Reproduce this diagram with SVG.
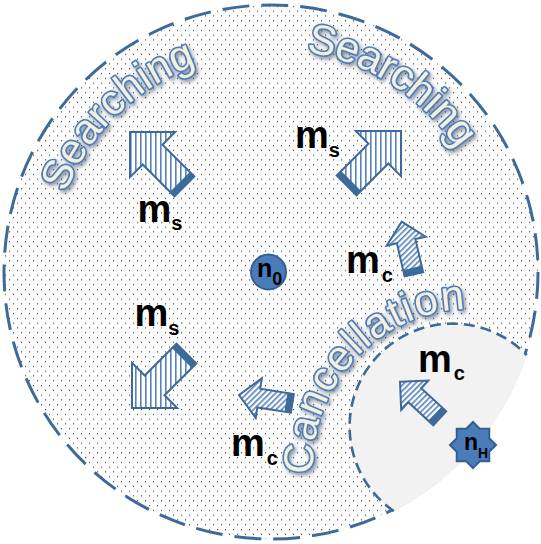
<svg xmlns="http://www.w3.org/2000/svg" width="541" height="544" viewBox="0 0 541 544">
<style>
.lbl{font-family:"Liberation Sans",Arial,sans-serif;font-weight:bold;font-size:38px;fill:#000}
.sub{font-size:20px}
.word{font-family:"Liberation Sans",Arial,sans-serif;font-size:42px;fill:#F3F0E2;stroke:#4F7DB5;stroke-width:3.2px;paint-order:stroke;stroke-linejoin:round;filter:url(#shadow)}
.arrow{stroke:#3C6A9C;stroke-width:2;stroke-linejoin:miter}
.band{fill:#3C6A9C;stroke:#3C6A9C;stroke-width:1}
.node{fill:#4A7CB9;stroke:#335F8F;stroke-width:2}
.ntxt{font-family:"Liberation Sans",Arial,sans-serif;font-weight:bold;fill:#000}
</style>
<defs>
<pattern id="dots" patternUnits="userSpaceOnUse" width="8" height="9.6">
<rect width="8" height="9.6" fill="#fff"/>
<rect x="1" y="1" width="1.1" height="1.1" fill="#333"/>
<rect x="5" y="5.8" width="1.1" height="1.1" fill="#333"/>
</pattern>
<pattern id="vstripe" patternUnits="userSpaceOnUse" width="5" height="5">
<rect width="5" height="5" fill="#fff"/>
<rect width="1.6" height="5" fill="#5482BA"/>
</pattern>
<pattern id="dstripe" patternUnits="userSpaceOnUse" width="4" height="4" patternTransform="rotate(45)">
<rect width="4" height="4" fill="#fff"/>
<rect width="1.6" height="4" fill="#5482BA"/>
</pattern>
<filter id="shadow" x="-20%" y="-20%" width="140%" height="140%">
<feDropShadow dx="2" dy="2.5" stdDeviation="2" flood-color="#3e4e66" flood-opacity="0.6"/>
</filter>
<path id="arcL" d="M 65.6 193.2 A 220 220 0 0 1 240.4 54.1"/>
<path id="arcR" d="M 305.9 51.7 A 223 223 0 0 1 480.5 195.7"/>
<path id="arcC" d="M 313.2 474.2 A 157 157 0 0 1 510.6 314.4"/>
</defs>

<g id="area">
<circle cx="271" cy="272" r="267" fill="url(#dots)" stroke="#3D6A99" stroke-width="3" stroke-dasharray="27 12"/>
<path id="cancel-zone" d="M 526.8 355.2 A 269 269 0 0 1 393.8 511.2 A 103 103 0 1 1 526.8 355.2 Z" fill="#F2F2F2"/>
<path d="M 393.8 511.2 A 103 103 0 1 1 526.8 355.2" fill="none" stroke="#3D6A99" stroke-width="2.6" stroke-dasharray="11 6"/>
</g>

<g id="labels-curved">
<text class="word"><textPath href="#arcL">Searching</textPath></text>
<text class="word" letter-spacing="-0.5"><textPath href="#arcR">Searching</textPath></text>
<text class="word" letter-spacing="1.7"><textPath href="#arcC">Cancellation</textPath></text>
</g>

<g id="connectors">
<g id="ms-nw">
<polygon class="arrow" fill="url(#vstripe)" points="130,132 175.2,132 162.5,144.7 194.3,176.5 174.5,196.3 142.7,164.5 130,177.2"/>
<polygon class="band" points="190.1,172.3 194.3,176.5 174.5,196.3 170.3,192.1"/>
</g>
<g id="ms-ne">
<polygon class="arrow" fill="url(#vstripe)" points="401,131 401,176.2 388.3,163.5 356.5,195.3 336.7,175.5 368.5,143.7 355.8,131"/>
<polygon class="band" points="360.7,191.1 356.5,195.3 336.7,175.5 340.9,171.3"/>
</g>
<g id="ms-sw">
<polygon class="arrow" fill="url(#vstripe)" points="132,408 177.2,408 164.5,395.3 196.3,363.5 176.5,343.7 144.7,375.5 132,362.8"/>
<polygon class="band" points="192.1,367.7 196.3,363.5 176.5,343.7 172.3,347.9"/>
</g>
<g id="mc-up">
<polygon class="arrow" fill="url(#dstripe)" points="401.7,221.7 425.7,236.7 415.4,239 423.1,272.2 404.6,276.4 396.9,243.3 386.7,245.7"/>
<polygon class="band" points="421.7,266.3 423.1,272.2 404.6,276.4 403.2,270.6"/>
</g>
<g id="mc-left">
<polygon class="arrow" fill="url(#dstripe)" points="239,395 261.9,378.3 260.2,388.7 293.8,394 290.9,412.7 257.3,407.5 255.7,417.9"/>
<polygon class="band" points="287.9,393 293.8,394 290.9,412.7 285,411.8"/>
</g>
<g id="mc-nw">
<polygon class="arrow" fill="url(#dstripe)" points="400,381.7 428.3,380.5 421.2,388.2 446.2,411.3 433.3,425.3 408.3,402.2 401.2,410"/>
<polygon class="band" points="441.8,407.2 446.2,411.3 433.3,425.3 428.9,421.2"/>
</g>
</g>

<g id="msg-labels">
<text class="lbl" x="137.5" y="222">m<tspan class="sub" dy="8">s</tspan></text>
<text class="lbl" x="295" y="148">m<tspan class="sub" dy="9">s</tspan></text>
<text class="lbl" x="134.5" y="326">m<tspan class="sub" dy="9">s</tspan></text>
<text class="lbl" x="346" y="273">m<tspan class="sub" dx="2" dy="9">c</tspan></text>
<text class="lbl" x="231" y="456">m<tspan class="sub" dx="2" dy="9">c</tspan></text>
<text class="lbl" x="418" y="372">m<tspan class="sub" dx="2" dy="8">c</tspan></text>
</g>

<g id="node-n0">
<circle class="node" cx="268.5" cy="272" r="17.5"/>
<text class="ntxt" x="257" y="277" font-size="25">n<tspan font-size="18" dy="8">0</tspan></text>
</g>

<g id="node-nH">
<polygon class="node" points="473,422 479.7,428.8 489.3,428.7 489.2,438.3 496,445 489.2,451.7 489.3,461.3 479.7,461.2 473,468 466.3,461.2 456.7,461.3 456.8,451.7 450,445 456.8,438.3 456.7,428.7 466.3,428.8"/>
<text class="ntxt" x="464" y="450" font-size="23">n<tspan font-size="14" dy="8">H</tspan></text>
</g>
</svg>
